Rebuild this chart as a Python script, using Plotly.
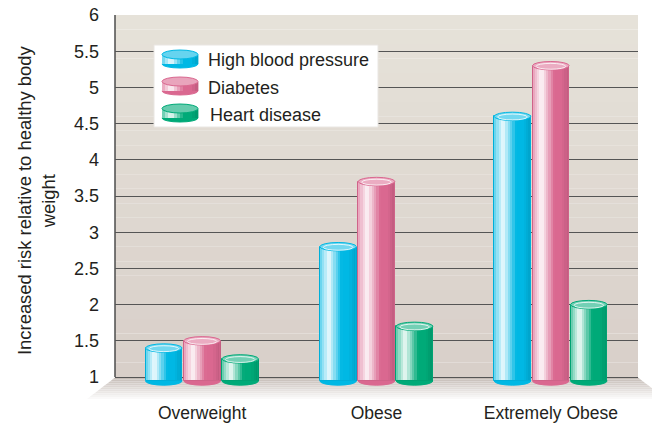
import plotly.graph_objects as go

# ---------------- data ----------------
categories = ["Overweight", "Obese", "Extremely Obese"]
series_names = ["High blood pressure", "Diabetes", "Heart disease"]
high_blood_pressure = [1.4, 2.8, 4.6]
diabetes = [1.5, 3.7, 5.3]
heart_disease = [1.25, 1.7, 2.0]
y_tick_values = [1, 1.5, 2, 2.5, 3, 3.5, 4, 4.5, 5, 5.5, 6]
y_tick_labels = ["1", "1.5", "2", "2.5", "3", "3.5", "4", "4.5", "5", "5.5", "6"]
y_title = "Increased risk relative to healthy body<br>weight"

series_values = [high_blood_pressure, diabetes, heart_disease]

# ---------------- style ----------------
FONT = "Liberation Sans, Arial, Helvetica, sans-serif"
FS = 17.5
TXT = "#231f20"
colors = [(0, 184, 228), (218, 104, 144), (0, 170, 120)]
offsets = [-0.22, 0.0, 0.218]
BAR_W = 0.21
BASE = 0.945
CAP = 0.058
N_STRIP = 16

W, H = 652, 423
ML, MR, MT, MB = 115, 14, 15, 25
PW, PH = W - ML - MR, H - MT - MB


def px_x(px):
    return (px - ML) / PW


def px_y(py):
    return (H - MB - py) / PH


def mix(c, t, target=(255, 255, 255)):
    return tuple(round(c[k] + (target[k] - c[k]) * t) for k in range(3))


def rgb(c):
    return "rgb(%d,%d,%d)" % c


def shade(c, t):
    # cylinder lighting profile across the width (0 = left edge, 1 = right edge)
    if t < 0.25:
        h = 0.35 + 0.6 * (t / 0.25)
    elif t < 0.6:
        h = 0.95 * (1 - (t - 0.25) / 0.35)
    else:
        h = 0.0
    col = mix(c, h)
    if t > 0.8:
        col = mix(col, (t - 0.8) / 0.2 * 0.12, (0, 0, 0))
    return rgb(col)


fig = go.Figure()
shapes = []

# wall background gradient (y from 1 to 6)
top_c, bot_c = (230, 226, 217), (216, 207, 201)
NB = 25
for j in range(NB):
    y0 = 1 + 5 * j / NB
    y1 = 1 + 5 * (j + 1) / NB
    c = mix(bot_c, j / (NB - 1), top_c)
    shapes.append(dict(type="rect", xref="paper", yref="y", x0=0, x1=1, y0=y0, y1=y1,
                       fillcolor=rgb(c), line_width=0, layer="below"))

# floor (perspective) gradient
floor_top, floor_bot = 377.5, 401
NF = 12
for j in range(NF):
    pa = floor_top + (floor_bot - floor_top) * j / NF
    pb = floor_top + (floor_bot - floor_top) * (j + 1) / NF
    la = 115 - (pa - floor_top) * 1.3
    lb = 115 - (pb - floor_top) * 1.3
    ra = 638 + (pa - floor_top) * 1.3
    rb = 638 + (pb - floor_top) * 1.3
    c = mix((196, 187, 181), (j / (NF - 1)) ** 0.9)
    path = "M %f,%f L %f,%f L %f,%f L %f,%f Z" % (
        px_x(la), px_y(pa), px_x(ra), px_y(pa), px_x(rb), px_y(pb), px_x(lb), px_y(pb))
    shapes.append(dict(type="path", xref="paper", yref="paper", path=path,
                       fillcolor=rgb(c), line_width=0, layer="below"))

# left wall edge
shapes.append(dict(type="line", xref="paper", yref="y", x0=0, x1=0, y0=1, y1=6,
                   line=dict(color="#4d4d4d", width=1.5), layer="between"))

# cylinders
for s, (name, vals, col, off) in enumerate(zip(series_names, series_values, colors, offsets)):
    centers = [i + off for i in range(len(categories))]
    sw = BAR_W / N_STRIP
    for k in range(N_STRIP):
        t = (k + 0.5) / N_STRIP
        fig.add_trace(go.Bar(
            x=[c - BAR_W / 2 + (k + 0.5) * sw for c in centers],
            y=[v - BASE for v in vals], base=BASE, width=sw * 1.15,
            marker=dict(color=shade(col, t), line_width=0),
            showlegend=False, hoverinfo="skip"))
    fig.add_trace(go.Bar(
        x=centers, y=[v - BASE for v in vals], base=BASE, width=BAR_W, name=name,
        marker=dict(color="rgba(0,0,0,0)", line=dict(color=rgb(mix(col, 0.05, (0, 0, 0))), width=1)),
        showlegend=False))
    for c, v in zip(centers, vals):
        # bottom rounding
        shapes.append(dict(type="circle", xref="x", yref="y",
                           x0=c - BAR_W / 2, x1=c + BAR_W / 2, y0=BASE - CAP, y1=BASE + CAP,
                           fillcolor=rgb(col), line=dict(color=rgb(col), width=1), layer="between"))
        # top face
        shapes.append(dict(type="circle", xref="x", yref="y",
                           x0=c - BAR_W / 2, x1=c + BAR_W / 2, y0=v - CAP, y1=v + CAP,
                           fillcolor=rgb(mix(col, 0.45)), line=dict(color=rgb(col), width=1), layer="above"))
        shapes.append(dict(type="circle", xref="x", yref="y",
                           x0=c - BAR_W / 2 + 0.02, x1=c + BAR_W / 2 - 0.02, y0=v - CAP * 0.85, y1=v + CAP * 0.55,
                           fillcolor="rgba(255,255,255,0)", line=dict(color="rgba(255,255,255,0.8)", width=1),
                           layer="above"))

# legend (box, disk icons and labels)
shapes.append(dict(type="rect", xref="paper", yref="paper", x0=px_x(154), x1=px_x(378),
                   y0=px_y(127), y1=px_y(45), fillcolor="white", line=dict(color="#e9e6e2", width=1),
                   layer="above"))
annotations = []
leg_y = [59, 86, 113]
for name, col, cy, tx in zip(series_names, colors, leg_y, [206, 206, 208]):
    x0, x1 = 162, 198
    shapes.append(dict(type="circle", xref="paper", yref="paper", x0=px_x(x0), x1=px_x(x1),
                       y0=px_y(cy + 9), y1=px_y(cy + 1), fillcolor=rgb(col),
                       line=dict(color=rgb(col), width=1), layer="above"))
    n = 12
    for k in range(n):
        t = (k + 0.5) / n
        a = x0 + (x1 - x0) * k / n
        b = x0 + (x1 - x0) * (k + 1) / n + 0.4
        shapes.append(dict(type="rect", xref="paper", yref="paper", x0=px_x(a), x1=px_x(b),
                           y0=px_y(cy + 5), y1=px_y(cy - 4), fillcolor=shade(col, t),
                           line_width=0, layer="above"))
    shapes.append(dict(type="circle", xref="paper", yref="paper", x0=px_x(x0), x1=px_x(x1),
                       y0=px_y(cy), y1=px_y(cy - 9), fillcolor=rgb(mix(col, 0.4)),
                       line=dict(color=rgb(col), width=1), layer="above"))
    annotations.append(dict(xref="paper", yref="paper", x=px_x(tx), y=px_y(cy + 1.5),
                            text=name, showarrow=False, xanchor="left", yanchor="middle",
                            font=dict(family=FONT, size=18, color=TXT)))

annotations.append(dict(xref="paper", yref="paper", x=px_x(36), y=px_y(200), text=y_title,
                        textangle=-90, showarrow=False, xanchor="center", yanchor="middle",
                        font=dict(family=FONT, size=18.4, color=TXT)))

fig.update_layout(
    width=W, height=H,
    margin=dict(l=ML, r=MR, t=MT, b=MB, pad=0),
    paper_bgcolor="white", plot_bgcolor="rgba(0,0,0,0)",
    barmode="overlay", bargap=0,
    showlegend=False,
    shapes=shapes, annotations=annotations,
    font=dict(family=FONT, size=FS, color=TXT),
    xaxis=dict(range=[-0.5, 2.5], tickvals=list(range(len(categories))), ticktext=categories,
               showgrid=False, zeroline=False, showline=False, ticks="", automargin=False,
               tickfont=dict(family=FONT, size=FS, color=TXT), ticklabelstandoff=2),
    yaxis=dict(range=[0.71, 6.0], tickvals=y_tick_values, ticktext=y_tick_labels,
               showgrid=True, gridcolor="#555555", gridwidth=1.3, zeroline=False, showline=False,
               automargin=False,
               ticks="", tickfont=dict(family=FONT, size=18, color=TXT), ticklabelstandoff=15),
)

fig.write_html("out.html")
